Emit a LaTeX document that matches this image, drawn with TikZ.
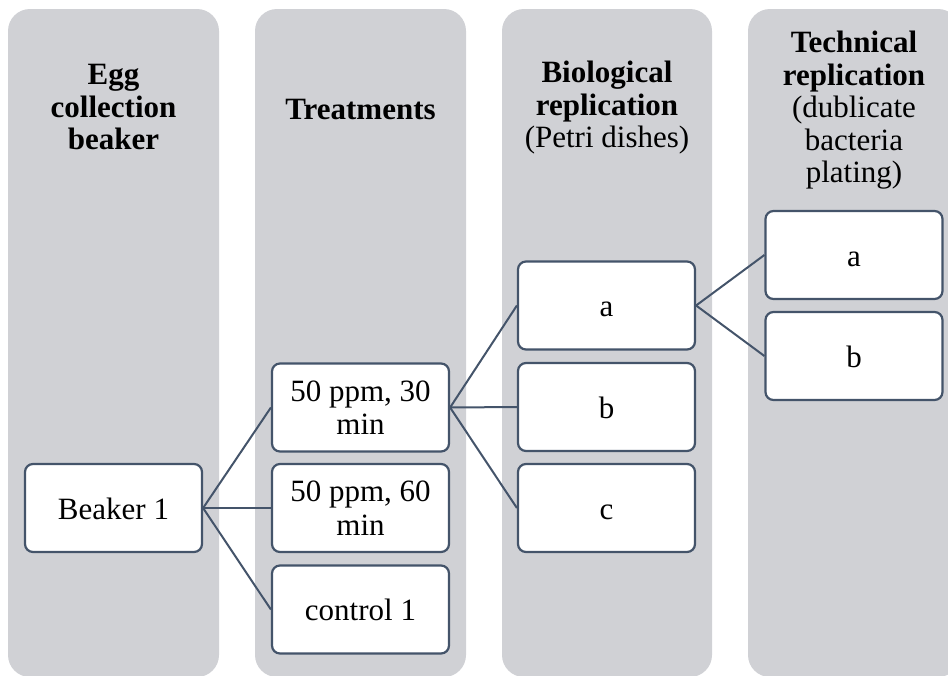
\documentclass[tikz,border=0pt]{standalone}
\usepackage{fontspec}
\setmainfont{Liberation Serif}
\definecolor{colgray}{HTML}{D0D1D5}
\definecolor{edgec}{HTML}{44546A}
\begin{document}
\begin{tikzpicture}[x=1pt,y=-1pt,
  column/.style={fill=colgray, rounded corners=22pt},
  hdr/.style={align=center, inner sep=0pt, font=\fontsize{31}{32.5}\selectfont},
  box/.style={draw=edgec, line width=2.2pt, fill=white, rounded corners=8pt,
    minimum width=177pt, minimum height=88pt, align=center, inner sep=2pt,
    font=\fontsize{31}{33.5}\selectfont},
  single/.style={text height=22pt, text depth=0pt},
  conn/.style={draw=edgec, line width=2pt}]
\useasboundingbox (0,0) rectangle (948,675);
\clip (0,0) rectangle (948,675);
% columns
\path[column] (8,9) rectangle (219,677);
\path[column] (255,9) rectangle (466,677);
\path[column] (502,9) rectangle (712,677);
\path[column] (748,9) rectangle (960,677);
% headers
\node[hdr] (h1) at (113.5,107) {\textbf{Egg}\\\textbf{collection}\\\textbf{beaker}};
\node[hdr] (h2) at (360.5,109) {\textbf{Treatments}};
\node[hdr] (h3) at (607,108) {\textbf{Biological}\\\textbf{replication}\\(Petri dishes)};
\node[hdr] (h4) at (854,110.5) {\textbf{Technical}\\\textbf{replication}\\(dublicate\\bacteria\\plating)};
% boxes
\node[box, single] (b1) at (113.5,508) {Beaker 1};
\node[box] (t1) at (360.5,407.5) {50 ppm, 30\\min};
\node[box] (t2) at (360.5,508) {50 ppm, 60\\min};
\node[box, single] (t3) at (360.5,609.5) {control 1};
\node[box, single] (p1) at (606.5,305.5) {a};
\node[box, single] (p2) at (606.5,407) {b};
\node[box, single] (p3) at (606.5,508) {c};
\node[box, single] (r1) at (854,255) {a};
\node[box, single] (r2) at (854,356) {b};
% connectors
\draw[conn] (b1.east) -- (t1.west);
\draw[conn] (b1.east) -- (t2.west);
\draw[conn] (b1.east) -- (t3.west);
\draw[conn] (t1.east) -- (p1.west);
\draw[conn] (t1.east) -- (p2.west);
\draw[conn] (t1.east) -- (p3.west);
\draw[conn] (p1.east) -- (r1.west);
\draw[conn] (p1.east) -- (r2.west);
\end{tikzpicture}
\end{document}
